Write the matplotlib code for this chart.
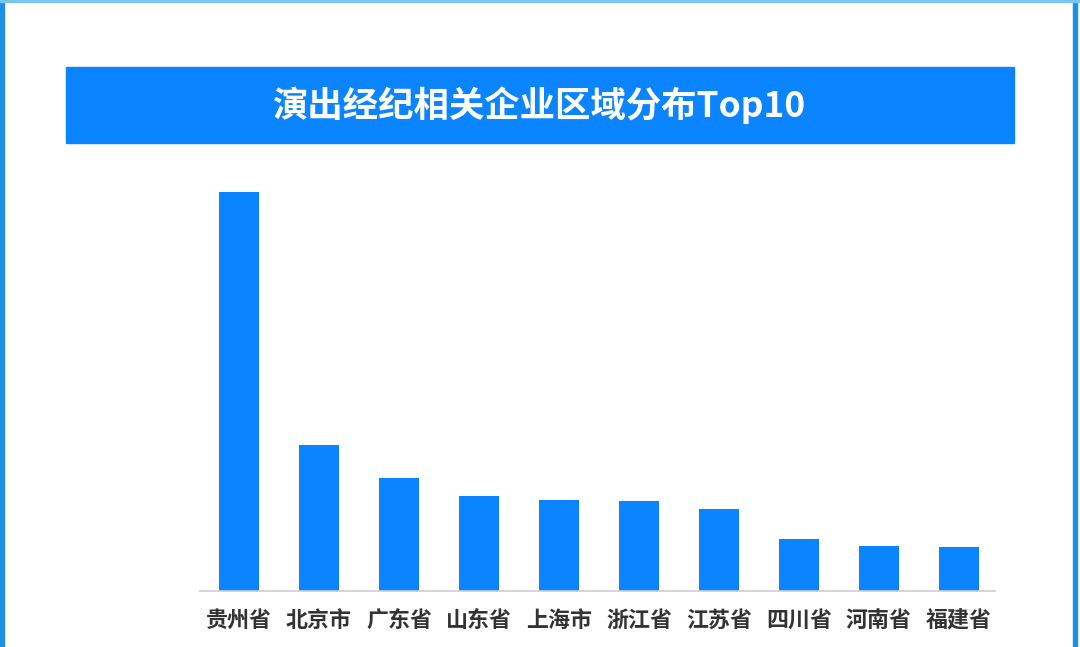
import matplotlib
matplotlib.use("Agg")
import matplotlib.pyplot as plt
from matplotlib.patches import Rectangle

plt.rcParams['font.family'] = ['Noto Sans CJK SC', 'DejaVu Sans']

# data (relative bar heights, no axis shown)
regions = ['贵州省', '北京市', '广东省', '山东省', '上海市', '浙江省', '江苏省', '四川省', '河南省', '福建省']
counts = [399, 146, 113, 95, 91, 90, 82, 52, 45, 44]
title = '演出经纪相关企业区域分布Top10'

bar_color = '#0A84FF'

fig = plt.figure(figsize=(10.8, 6.47), dpi=100)
W, H = 1080, 647

# frame around the image
fig.patches.append(Rectangle((0, 0), 4 / W, 1, transform=fig.transFigure, color='#1E8FE6', zorder=0))
fig.patches.append(Rectangle((1073 / W, 0), 4 / W, 1, transform=fig.transFigure, color='#1E8FE6', zorder=0))
fig.patches.append(Rectangle((0, 1 - 2 / H), 1, 2 / H, transform=fig.transFigure, color='#7CC4F0', zorder=0))

# title banner
fig.patches.append(Rectangle((66 / W, 1 - 143 / H), (1014 - 66) / W, 76 / H,
                             transform=fig.transFigure, color=bar_color, zorder=0))
fig.text(539 / W, 1 - 105 / H, title, color='white', fontsize=25.5, fontweight='bold',
         ha='center', va='center')

# bars
ax = fig.add_axes([200 / W, 1 - 591 / H, (995 - 200) / W, (591 - 192) / H])
x = list(range(len(regions)))
ax.bar(x, counts, width=0.5, color=bar_color)
ax.set_xlim((200 - 239) / 80, (995 - 239) / 80)
ax.set_ylim(0, max(counts))
ax.set_xticks(x)
ax.set_xticklabels(regions, fontsize=15.8, fontweight='bold', color='#333333')
ax.tick_params(axis='x', length=0, pad=13)
ax.set_yticks([])
for s in ['top', 'right', 'left']:
    ax.spines[s].set_visible(False)
ax.spines['bottom'].set_color('#CCCCCC')
ax.spines['bottom'].set_linewidth(1.2)
ax.patch.set_alpha(0)

fig.savefig('out.png', dpi=100)
